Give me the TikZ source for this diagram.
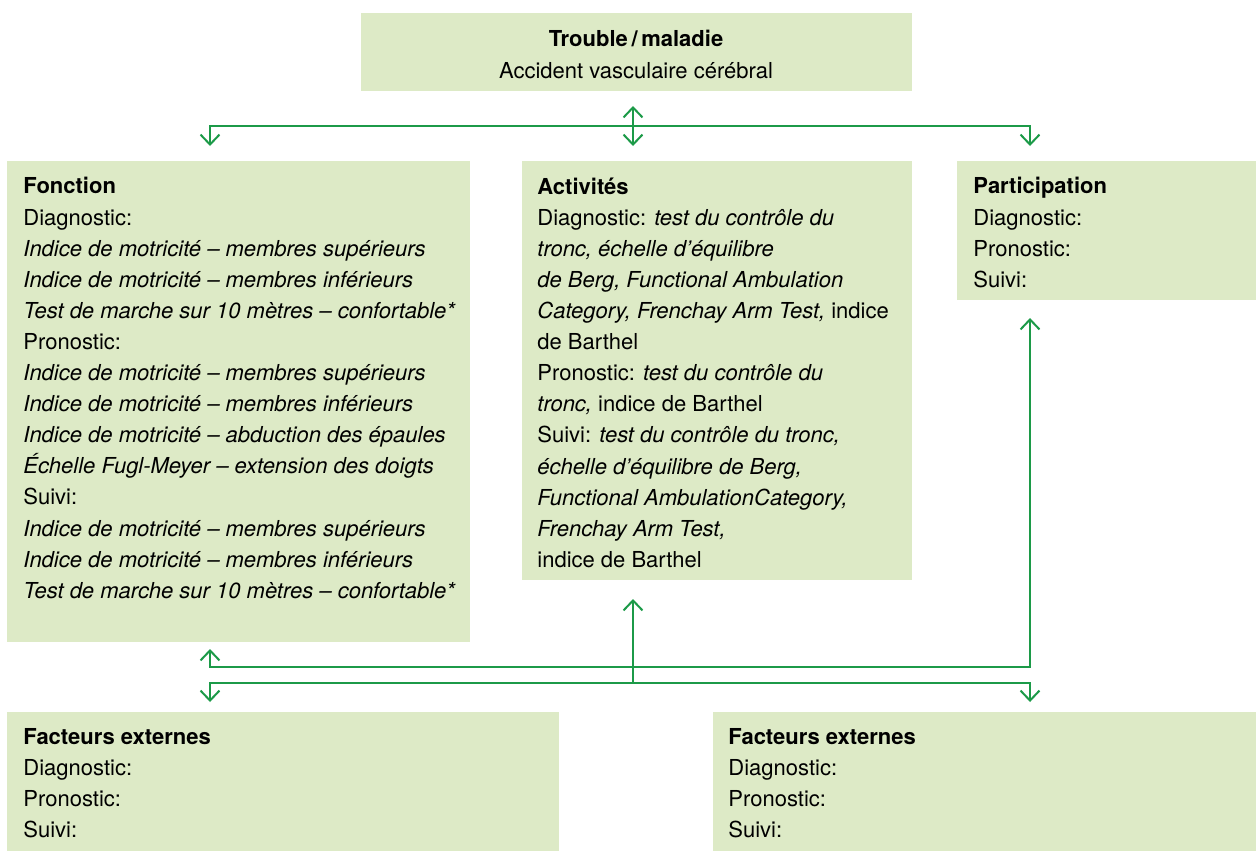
\documentclass[tikz,border=0pt]{standalone}
\usepackage{fontspec}
\setmainfont{TeX Gyre Heros}
\usetikzlibrary{arrows.meta,fit}
\definecolor{boxgreen}{RGB}{221,234,198}
\definecolor{linegreen}{RGB}{28,154,72}

\begin{document}
\begin{tikzpicture}
	 [x=0.5pt,y=-0.5pt,
	  >={Straight Barb[length=5pt,width=9.5pt,line width=1pt]},
	  box/.style={fill=boxgreen,inner sep=0pt},
	  txt/.style={anchor=north west,align=left,inner sep=0pt,execute at begin node=\strut,
	    font=\fontsize{11}{15.55}\selectfont},
	  link/.style={draw=linegreen,line width=1pt}]
	\useasboundingbox (0,0) rectangle (1256,851);

	  \node (trouble)[box,fit={(361,13)(912,91)}] {};
	  \node (fonction)[box,fit={(7,161)(470,642)}] {};
	  \node (activites)[box,fit={(522,161)(912,580)}] {};
	  \node (participation)[box,fit={(957,161)(1256,300)}] {};
	  \node (facteursA)[box,fit={(7,712)(559,851)}] {};
	  \node (facteursB)[box,fit={(713,712)(1256,851)}] {};

	% texts: first baseline minus strut height
	\node (troubleT)[txt,anchor=north,align=center] at (636,30.2) {\textbf{Trouble\,/\,maladie}\\Accident vasculaire cérébral};

	\node (fonctionT)[txt] at (23,177.2) {\textbf{Fonction}\\
	  Diagnostic:\\
	  \textit{Indice de motricité – membres supérieurs}\\
	  \textit{Indice de motricité – membres inférieurs}\\
	  \textit{Test de marche sur 10 mètres – confortable*}\\
	  Pronostic:\\
	  \textit{Indice de motricité – membres supérieurs}\\
	  \textit{Indice de motricité – membres inférieurs}\\
	  \textit{Indice de motricité – abduction des épaules}\\
	  \textit{Échelle Fugl-Meyer – extension des doigts}\\
	  Suivi:\\
	  \textit{Indice de motricité – membres supérieurs}\\
	  \textit{Indice de motricité – membres inférieurs}\\
	  \textit{Test de marche sur 10 mètres – confortable*}};

	\node (activitesT)[txt] at (537,177.2) {\textbf{Activités}\\
	  Diagnostic: \textit{test du contrôle du}\\
	  \textit{tronc, échelle d’équilibre}\\
	  \textit{de Berg, Functional Ambulation}\\
	  \textit{Category, Frenchay Arm Test,} indice\\
	  de Barthel\\
	  Pronostic: \textit{test du contrôle du}\\
	  \textit{tronc,} indice de Barthel\\
	  Suivi: \textit{test du contrôle du tronc,}\\
	  \textit{échelle d’équilibre de Berg,}\\
	  \textit{Functional AmbulationCategory,}\\
	  \textit{Frenchay Arm Test,}\\
	  indice de Barthel};

	\node (participationT)[txt] at (973,177.2) {\textbf{Participation}\\Diagnostic:\\Pronostic:\\Suivi:};
	\node (facteursAT)[txt] at (23,728.2) {\textbf{Facteurs externes}\\Diagnostic:\\Pronostic:\\Suivi:};
	\node (facteursBT)[txt] at (728,728.2) {\textbf{Facteurs externes}\\Diagnostic:\\Pronostic:\\Suivi:};

	% connectors
	\coordinate (top) at (633,126);
	\coordinate (troubleOut) at (633,106);
	\coordinate (fonctionIn) at (210,146);
	\coordinate (activitesIn) at (633,146);
	\coordinate (participationIn) at (1030,146);
	\coordinate (fonctionOut) at (210,649);
	\coordinate (bendA) at (1030,667);
	\coordinate (participationOut) at (1030,318);
	\coordinate (bottom) at (633,683);
	\coordinate (bendB) at (1030,683);
	\coordinate (activitesOut) at (633,599);
	\coordinate (facteursAIn) at (210,702);
	\coordinate (facteursBIn) at (1030,702);

	\foreach \to in {fonctionIn,participationIn}
    \draw[link,->] (top) -| (\to);
	\draw[link,<->] (troubleOut) -- (activitesIn);
	\draw[link,<->] (fonctionOut) |- (bendA) -- (participationOut);
	\draw[link,<->] (facteursAIn) |- (bendB) -- (facteursBIn);
	\draw[link,->] (bottom) -- (activitesOut);

\end{tikzpicture}
\end{document}
